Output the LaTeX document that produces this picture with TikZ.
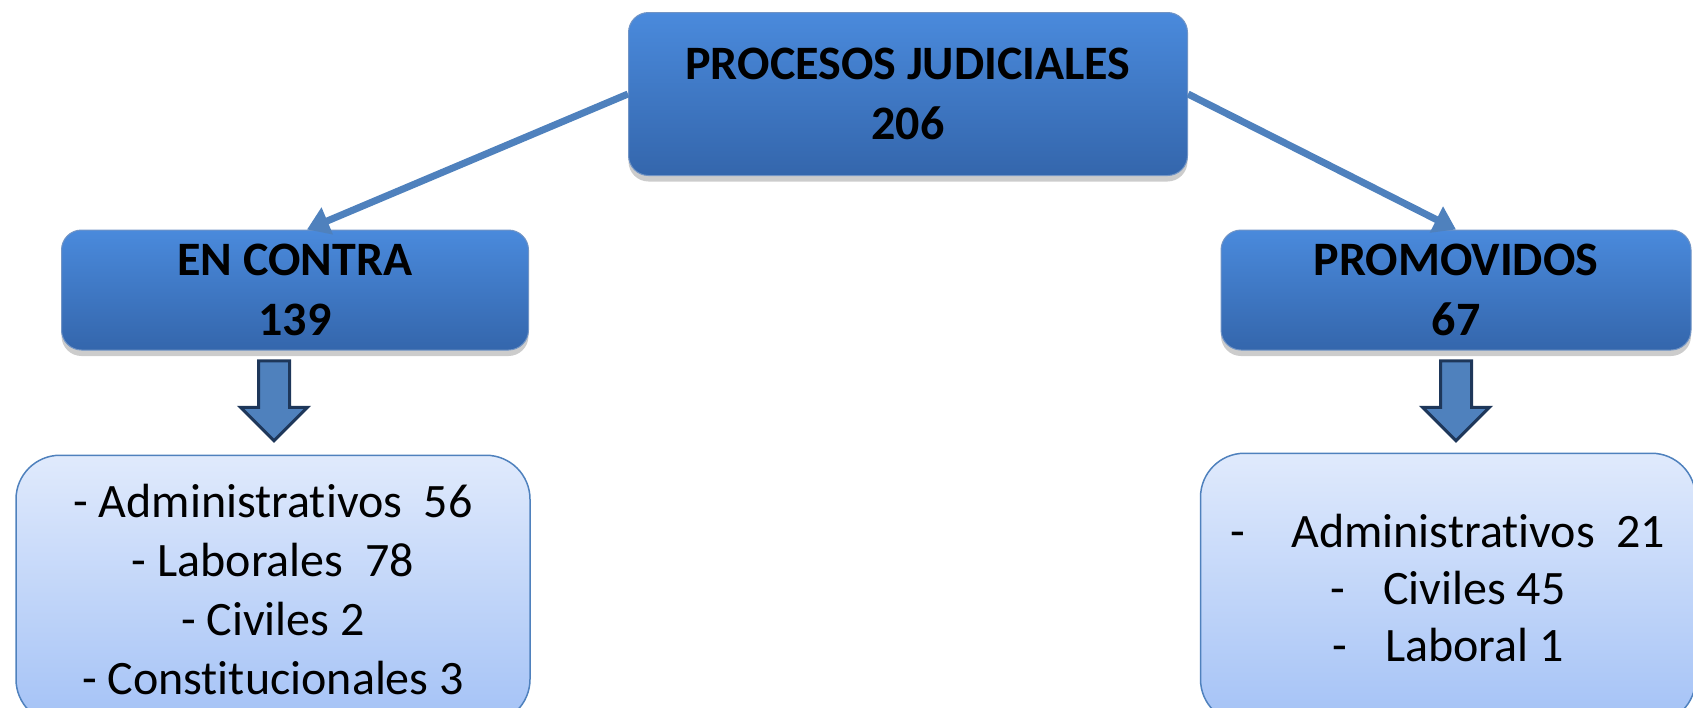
\documentclass[tikz,border=0pt]{standalone}
\usepackage{fontspec}
\setmainfont{Carlito}[Ligatures=NoCommon]
\usepackage{xcolor}
\usepackage{tikz}
\usetikzlibrary{shapes.arrows,arrows.meta,positioning,shadows,calc}
\definecolor{headtop}{RGB}{74,138,220}
\definecolor{headbottom}{RGB}{52,102,172}
\definecolor{listtop}{RGB}{224,234,252}
\definecolor{listbottom}{RGB}{164,194,246}
\definecolor{linkblue}{RGB}{79,129,189}
\definecolor{arrowedge}{RGB}{30,55,90}

\begin{document}
\begin{tikzpicture}[x=1pt, y=-1pt, >={Triangle[width=28pt,length=22pt]},
  every node/.style={font=\fontsize{48}{59}\selectfont},
  headbox/.style={draw=headbottom!70!white, line width=1pt, rounded corners=20pt, top color=headtop, bottom color=headbottom, align=center, font=\fontsize{48}{60}\selectfont\bfseries, drop shadow={shadow xshift=0pt, shadow yshift=-6pt, opacity=0.4}},
  listbox/.style={draw=linkblue, line width=1.5pt, rounded corners=44pt, top color=listtop, bottom color=listbottom, align=center},
  bajada/.style={single arrow, shape border rotate=270, inner sep=14pt, single arrow head extend=18pt, minimum height=80pt, fill=linkblue, draw=arrowedge, line width=3pt}]
\useasboundingbox (0,0) rectangle (1693,707);
\node[headbox, minimum width=559pt, minimum height=163pt] (procesos) at (908,94) {PROCESOS JUDICIALES\\206};
\node[headbox, minimum width=467pt, minimum height=120pt] (encontra) at (295,290) {EN CONTRA\\139};
\node[headbox, minimum width=470pt, minimum height=120pt] (promovidos) at (1456,290) {PROMOVIDOS\\67};
\node[listbox, minimum width=514pt, minimum height=268pt, below=104pt of encontra, xshift=-22pt] (listacontra) {- Administrativos~~56\\- Laborales~~78\\- Civiles 2\\- Constitucionales 3};
\node[listbox, minimum width=495pt, minimum height=270pt, below=102pt of promovidos, xshift=-8pt, font=\fontsize{48}{57}\selectfont] (listapromovidos) {-\hspace{46pt}Administrativos~~21\\-\hspace{38pt}Civiles 45\\-\hspace{38pt}Laboral 1};
\node[bajada] (flechacontra) at (274,393) {};
\node[bajada] (flechapromovidos) at (1456,393) {};
\draw[->, linkblue, line width=7pt] (procesos.west) -- ([xshift=12pt]encontra.north);
\draw[->, linkblue, line width=7pt] (procesos.east) -- (promovidos.north);
\end{tikzpicture}
\end{document}
